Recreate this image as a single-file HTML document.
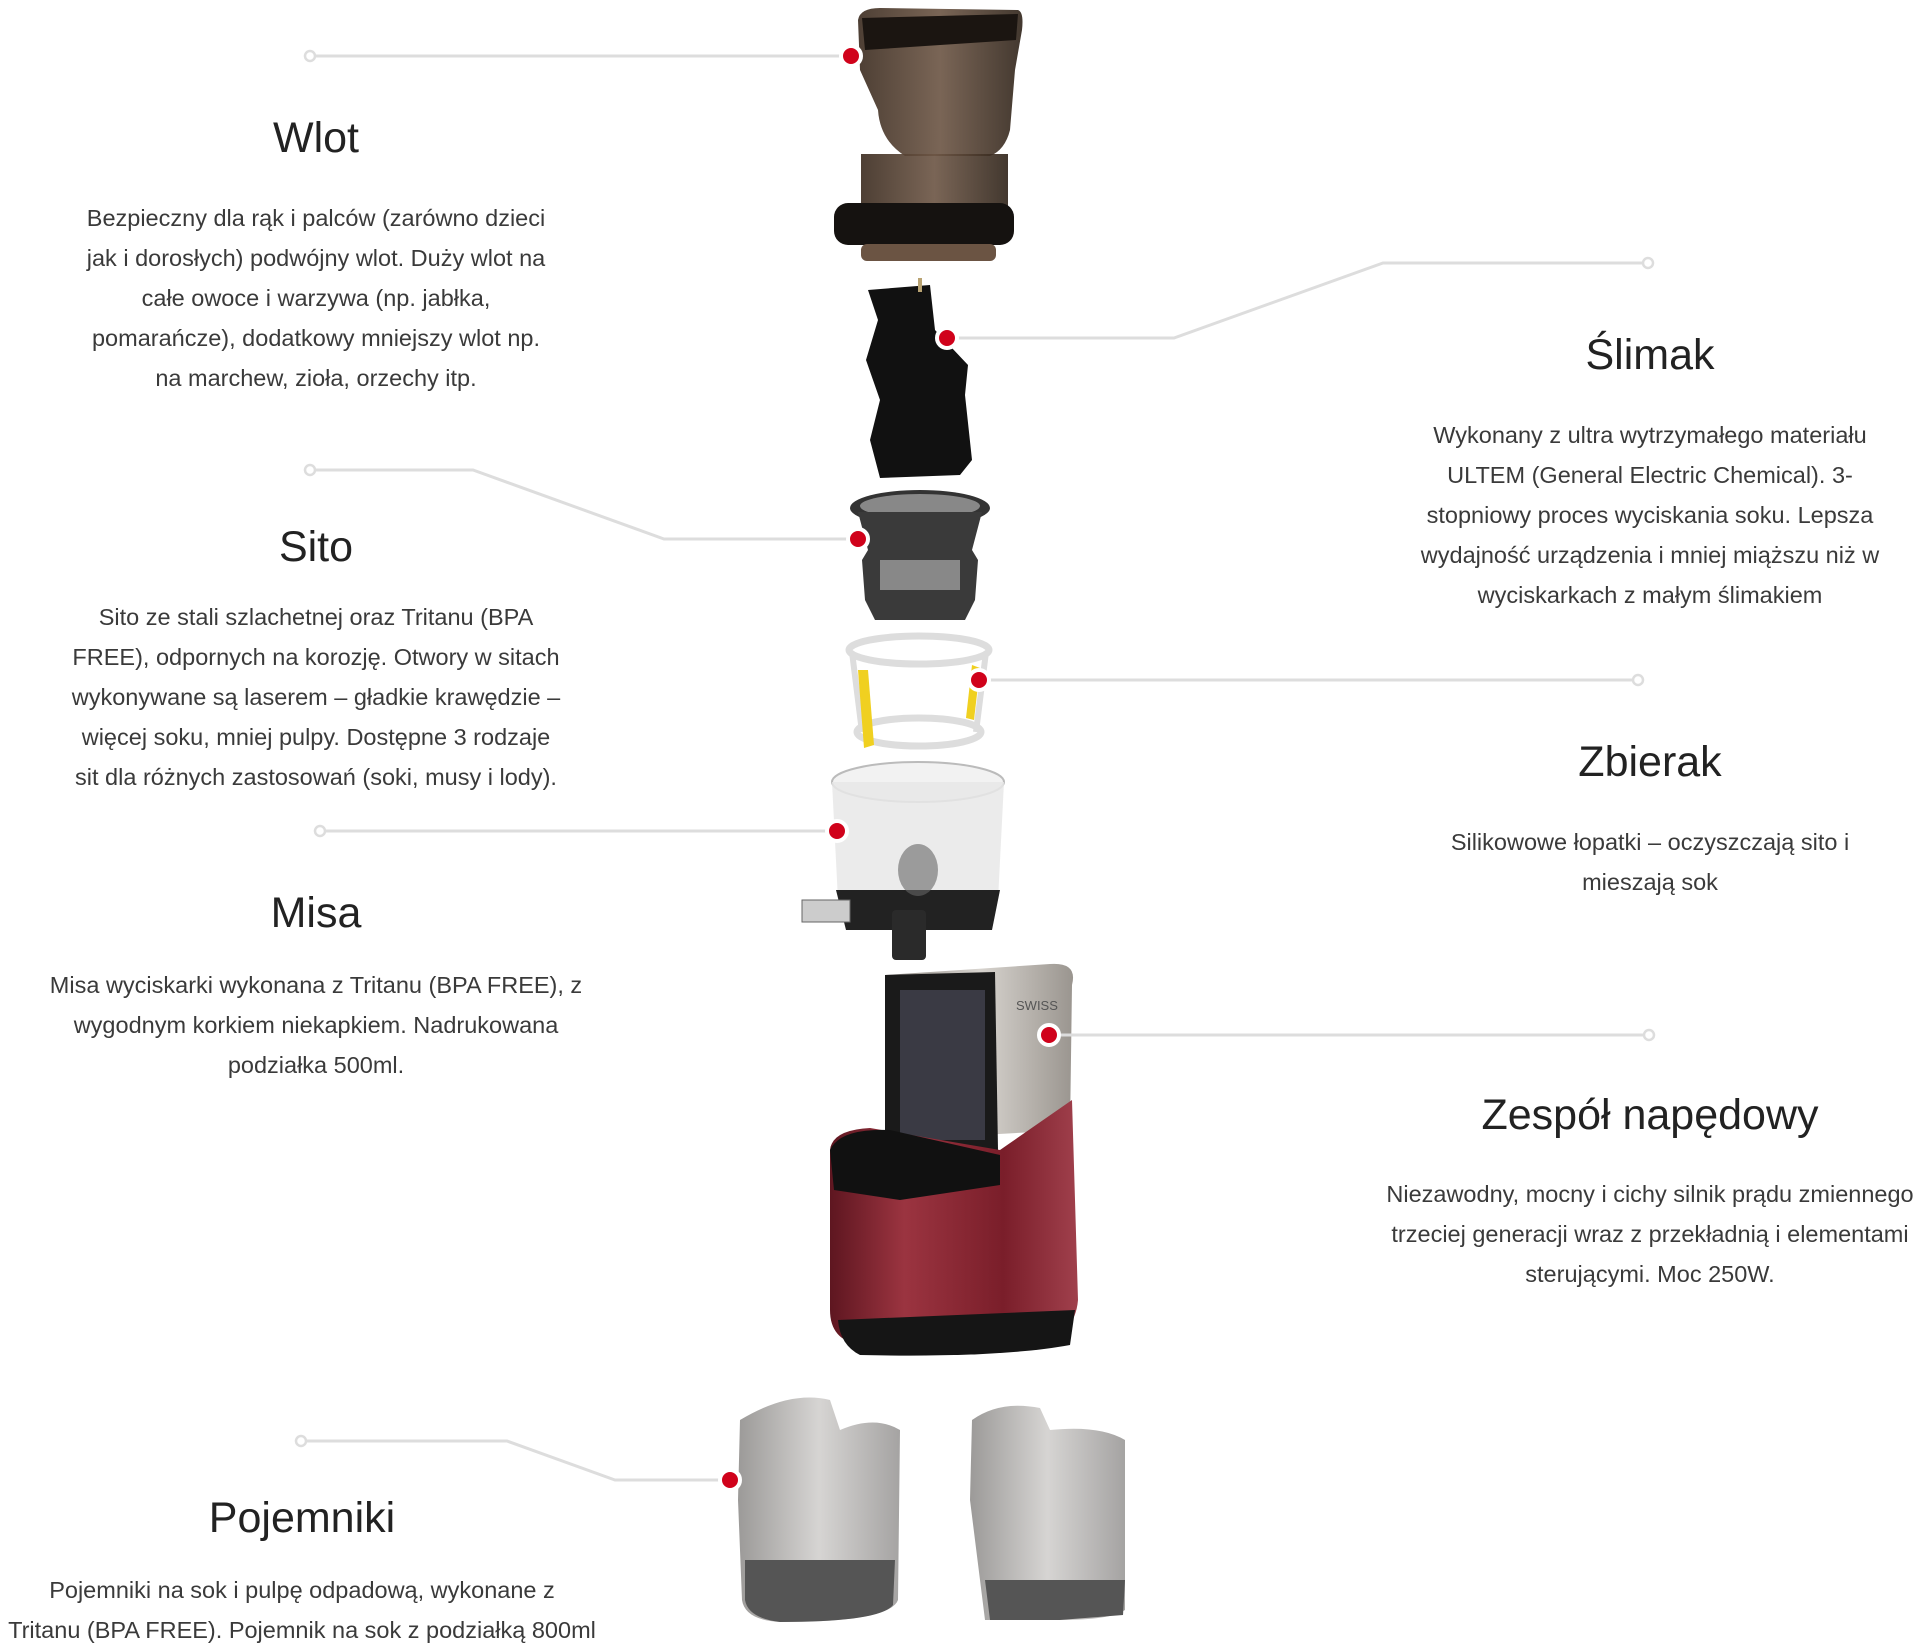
<!DOCTYPE html>
<html><head><meta charset="utf-8"><style>
html,body{margin:0;padding:0;background:#fff;}
body{width:1928px;height:1648px;position:relative;overflow:hidden;font-family:"Liberation Sans","DejaVu Sans",sans-serif;}
.t{position:absolute;transform:translateX(-50%);text-align:center;color:#222;font-size:43px;white-space:nowrap;}
.p{position:absolute;transform:translateX(-50%);text-align:center;color:#3a3a3a;font-size:23.5px;line-height:40px;white-space:nowrap;}
svg{position:absolute;left:0;top:0;}
</style></head><body>
<svg width="1928" height="1648" viewBox="0 0 1928 1648">
<defs>
<linearGradient id="brown" x1="0" x2="1"><stop offset="0" stop-color="#3a2a1e"/><stop offset=".5" stop-color="#6b5443"/><stop offset="1" stop-color="#2e2218"/></linearGradient>
<linearGradient id="red" x1="0" x2="1"><stop offset="0" stop-color="#5e1620"/><stop offset=".3" stop-color="#9b3440"/><stop offset=".7" stop-color="#7a1e2a"/><stop offset="1" stop-color="#a0404c"/></linearGradient>
<linearGradient id="silver" x1="0" x2="1"><stop offset="0" stop-color="#8a8580"/><stop offset=".5" stop-color="#d8d4cf"/><stop offset="1" stop-color="#9a958f"/></linearGradient>
<linearGradient id="gray" x1="0" x2="1"><stop offset="0" stop-color="#8a8886"/><stop offset=".5" stop-color="#cfcdcb"/><stop offset="1" stop-color="#959392"/></linearGradient>
</defs>
<!-- Wlot -->
<path d="M858 20 Q860 8 880 8 L1018 10 Q1024 12 1022 30 L1015 70 L1010 130 Q1005 150 990 156 L905 156 Q880 140 878 110 L860 70 Z" fill="url(#brown)" opacity=".9"/>
<path d="M862 18 L1018 14 L1016 40 L865 50 Z" fill="#1b1511"/>
<path d="M861 154 L1008 154 L1008 210 L861 210 Z" fill="url(#brown)" opacity=".9"/>
<rect x="834" y="203" width="180" height="42" rx="14" fill="#151210"/>
<rect x="861" y="244" width="135" height="17" rx="6" fill="#6b5443"/>
<!-- Ślimak -->
<path d="M868 290 L930 285 L935 330 L968 365 L965 395 L972 460 L960 475 L880 478 L870 440 L880 400 L866 360 L878 320 Z" fill="#111"/>
<rect x="918" y="278" width="4" height="14" fill="#b9a372"/>
<!-- Sito -->
<ellipse cx="920" cy="508" rx="70" ry="18" fill="#333"/>
<ellipse cx="920" cy="506" rx="60" ry="12" fill="#888"/>
<path d="M858 512 L982 512 L972 550 L978 560 L975 600 L965 620 L875 620 L865 600 L862 560 L868 550 Z" fill="#3a3a3a"/>
<rect x="880" y="560" width="80" height="30" fill="#aaa" opacity=".7"/>
<!-- Zbierak -->
<ellipse cx="919" cy="650" rx="70" ry="14" fill="none" stroke="#ddd" stroke-width="7"/>
<ellipse cx="919" cy="732" rx="62" ry="14" fill="none" stroke="#ddd" stroke-width="7"/>
<line x1="852" y1="652" x2="862" y2="732" stroke="#ddd" stroke-width="6"/>
<line x1="986" y1="652" x2="976" y2="732" stroke="#ddd" stroke-width="6"/>
<path d="M858 670 L868 670 L874 745 L864 748 Z" fill="#f0d020"/>
<path d="M972 665 L980 668 L974 720 L966 718 Z" fill="#f0d020"/>
<!-- Misa -->
<ellipse cx="918" cy="782" rx="86" ry="20" fill="#f2f2f2" stroke="#bbb" stroke-width="2"/>
<path d="M832 782 L1004 782 L998 900 L838 900 Z" fill="#e8e8e8" opacity=".85"/>
<path d="M836 890 L1000 890 L992 930 L846 930 Z" fill="#222"/>
<rect x="802" y="900" width="48" height="22" fill="#ccc" stroke="#666"/>
<rect x="892" y="910" width="34" height="50" rx="4" fill="#2a2a2a"/>
<ellipse cx="918" cy="870" rx="20" ry="26" fill="#666" opacity=".6"/>
<!-- Base -->
<path d="M885 975 L1050 964 Q1078 962 1072 985 L1070 1130 L890 1140 Z" fill="url(#silver)"/>
<path d="M885 975 L995 972 L998 1150 L885 1160 Z" fill="#1a1a1a"/>
<rect x="900" y="990" width="85" height="150" fill="#3a3a44"/>
<path d="M830 1150 Q832 1130 870 1128 L1000 1150 L1072 1100 L1078 1300 Q1075 1335 1040 1340 L860 1345 Q830 1340 830 1310 Z" fill="url(#red)"/>
<path d="M830 1150 Q840 1128 890 1130 L1000 1155 L1000 1185 L900 1200 L834 1190 Z" fill="#111"/>
<path d="M838 1320 L1075 1310 L1070 1345 Q1000 1358 860 1355 Q840 1345 838 1320 Z" fill="#151515"/>
<text x="1016" y="1010" font-size="13" fill="#555" font-family="Liberation Sans">SWISS</text>
<!-- Pitchers -->
<path d="M740 1420 Q790 1390 830 1400 L840 1430 Q875 1415 900 1430 L898 1600 Q890 1622 780 1622 Q745 1620 742 1600 L738 1500 Z" fill="url(#gray)" opacity=".85"/>
<path d="M745 1560 L895 1560 L893 1605 Q880 1622 780 1622 Q748 1618 745 1600 Z" fill="#555"/>
<path d="M972 1420 Q1000 1400 1040 1408 L1050 1430 Q1100 1425 1125 1440 L1125 1610 Q1110 1620 1060 1620 L985 1620 L970 1500 Z" fill="url(#gray)" opacity=".85"/>
<path d="M985 1580 L1125 1580 L1123 1615 L1060 1620 L990 1620 Z" fill="#555"/>
<!-- connectors -->
<g fill="none" stroke="#ddd" stroke-width="3">
<polyline points="310,56 851,56"/>
<polyline points="947,338 1174,338 1383,263 1648,263"/>
<polyline points="310,470 473,470 664,539 858,539"/>
<polyline points="979,680 1638,680"/>
<polyline points="320,831 837,831"/>
<polyline points="1049,1035 1649,1035"/>
<polyline points="301,1441 507,1441 615,1480 730,1480"/>
</g>
<g fill="#fff" stroke="#ddd" stroke-width="2.5">
<circle cx="310" cy="56" r="5"/><circle cx="1648" cy="263" r="5"/><circle cx="310" cy="470" r="5"/>
<circle cx="1638" cy="680" r="5"/><circle cx="320" cy="831" r="5"/><circle cx="1649" cy="1035" r="5"/><circle cx="301" cy="1441" r="5"/>
</g>
<g fill="#d0021b" stroke="#fff" stroke-width="4">
<circle cx="851" cy="56" r="10"/><circle cx="947" cy="338" r="10"/><circle cx="858" cy="539" r="10"/>
<circle cx="979" cy="680" r="10"/><circle cx="837" cy="831" r="10"/><circle cx="1049" cy="1035" r="10"/><circle cx="730" cy="1480" r="10"/>
</g>
</svg>

<div class="t" style="left:316px;top:114px">Wlot</div>
<div class="p" style="left:316px;top:198px">Bezpieczny dla rąk i palców (zarówno dzieci<br>jak i dorosłych) podwójny wlot. Duży wlot na<br>całe owoce i warzywa (np. jabłka,<br>pomarańcze), dodatkowy mniejszy wlot np.<br>na marchew, zioła, orzechy itp.</div>

<div class="t" style="left:1650px;top:331px">Ślimak</div>
<div class="p" style="left:1650px;top:415px">Wykonany z ultra wytrzymałego materiału<br>ULTEM (General Electric Chemical). 3-<br>stopniowy proces wyciskania soku. Lepsza<br>wydajność urządzenia i mniej miąższu niż w<br>wyciskarkach z małym ślimakiem</div>

<div class="t" style="left:316px;top:523px">Sito</div>
<div class="p" style="left:316px;top:597px">Sito ze stali szlachetnej oraz Tritanu (BPA<br>FREE), odpornych na korozję. Otwory w sitach<br>wykonywane są laserem – gładkie krawędzie –<br>więcej soku, mniej pulpy. Dostępne 3 rodzaje<br>sit dla różnych zastosowań (soki, musy i lody).</div>

<div class="t" style="left:1650px;top:738px">Zbierak</div>
<div class="p" style="left:1650px;top:822px">Silikowowe łopatki – oczyszczają sito i<br>mieszają sok</div>

<div class="t" style="left:316px;top:889px">Misa</div>
<div class="p" style="left:316px;top:965px">Misa wyciskarki wykonana z Tritanu (BPA FREE), z<br>wygodnym korkiem niekapkiem. Nadrukowana<br>podziałka 500ml.</div>

<div class="t" style="left:1650px;top:1091px">Zespół napędowy</div>
<div class="p" style="left:1650px;top:1174px">Niezawodny, mocny i cichy silnik prądu zmiennego<br>trzeciej generacji wraz z przekładnią i elementami<br>sterującymi. Moc 250W.</div>

<div class="t" style="left:302px;top:1494px">Pojemniki</div>
<div class="p" style="left:302px;top:1570px">Pojemniki na sok i pulpę odpadową, wykonane z<br>Tritanu (BPA FREE). Pojemnik na sok z podziałką 800ml</div>
</body></html>
